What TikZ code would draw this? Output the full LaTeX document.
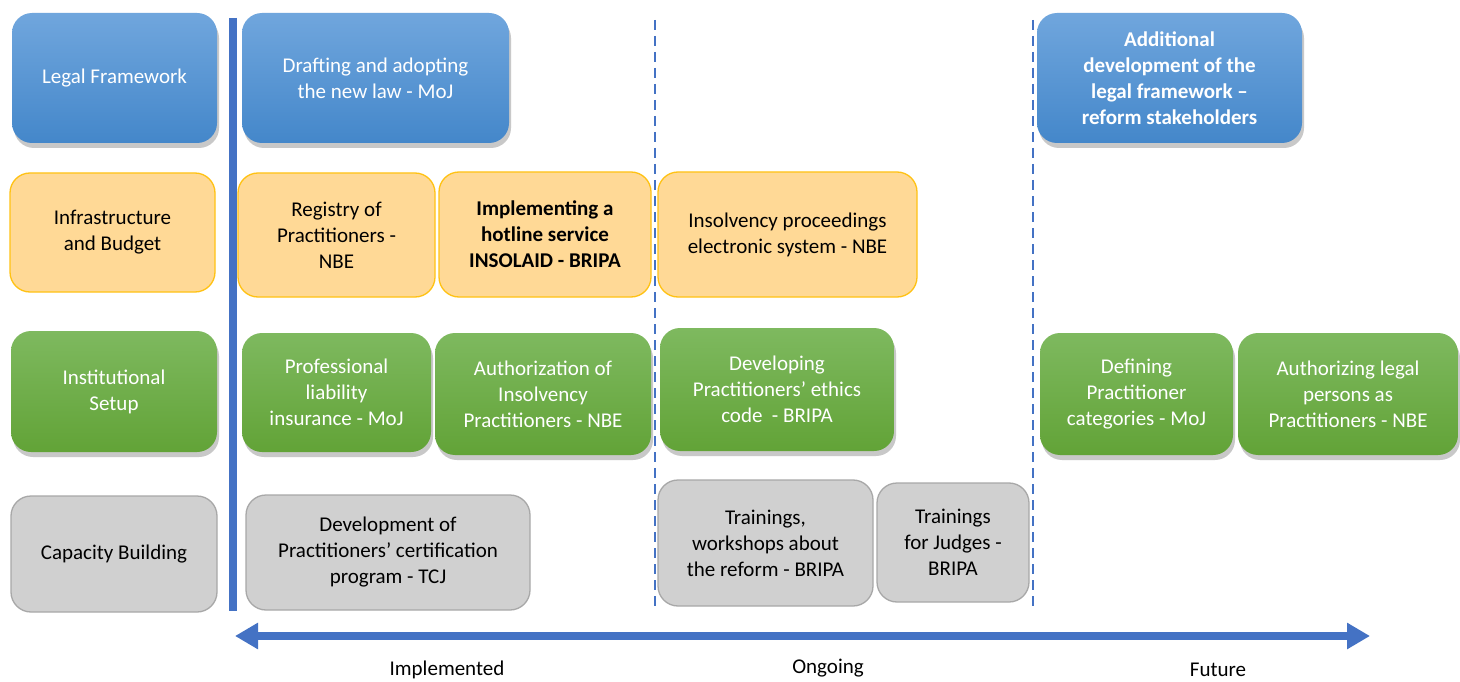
\documentclass[tikz,border=0pt]{standalone}
\usepackage{fontspec}
\setmainfont{Carlito}
\usetikzlibrary{arrows.meta,shadows}
\definecolor{blueT}{RGB}{112,166,221}
\definecolor{blueB}{RGB}{68,135,202}
\definecolor{greenT}{RGB}{126,185,95}
\definecolor{greenB}{RGB}{98,163,55}
\definecolor{orangeF}{RGB}{255,217,150}
\definecolor{orangeD}{RGB}{255,194,20}
\definecolor{greyF}{RGB}{208,208,208}
\definecolor{greyD}{RGB}{168,168,168}
\definecolor{lineblue}{RGB}{68,114,196}
\begin{document}
\begin{tikzpicture}[x=1pt,y=-1pt,
  box/.style={rounded corners=20pt, align=center, inner sep=0pt, font=\fontsize{21}{26}\selectfont},
  shad/.style={drop shadow={shadow xshift=2pt, shadow yshift=-5pt, opacity=0.3, fill=black!70}},
  bluebox/.style={box, shad, top color=blueT, bottom color=blueB, draw=none, text=white},
  greenbox/.style={box, shad, top color=greenT, bottom color=greenB, draw=none, text=white},
  orangebox/.style={box, fill=orangeF, draw=orangeD, line width=1.3pt, text=black},
  greybox/.style={box, fill=greyF, draw=greyD, line width=1.3pt, text=black},
  divider/.style={draw=lineblue, line width=2pt, dash pattern=on 10pt off 6pt},
  axis/.style={draw=lineblue, line width=8pt},
  lbl/.style={font=\fontsize{21}{26}\selectfont, text=black}
]
\useasboundingbox[fill=white] (0,0) rectangle (1460,682);

% dividers
\coordinate (s1) at (233,18);
\coordinate (s2) at (233,611);
\coordinate (d1a) at (655,20);
\coordinate (d1b) at (655,608);
\coordinate (d2a) at (1033,20);
\coordinate (d2b) at (1033,608);
\draw[axis] (s1) -- (s2);
\draw[divider] (d1a) -- (d1b);
\draw[divider] (d2a) -- (d2b);

% row 1
\node[bluebox, minimum width=205pt, minimum height=130pt] (lf) at (114.5,78) {Legal Framework};
\node[bluebox, minimum width=267pt, minimum height=130pt] (draft) at (375.5,78) {Drafting and adopting\\the new law - MoJ};
\node[bluebox, minimum width=265pt, minimum height=130pt, font=\fontsize{21}{26}\selectfont\bfseries] (addl) at (1169.5,78) {Additional\\development of the\\legal framework –\\reform stakeholders};

% row 2
\node[orangebox, minimum width=205pt, minimum height=119pt] (ib) at (112.5,232.5) {Infrastructure\\and Budget};
\node[orangebox, minimum width=197pt, minimum height=124pt] (reg) at (336.5,235) {Registry of\\Practitioners -\\NBE};
\node[orangebox, minimum width=212pt, minimum height=125pt, font=\fontsize{21}{26}\selectfont\bfseries] (impl) at (545,234.5) {Implementing a\\hotline service\\INSOLAID - BRIPA};
\node[orangebox, minimum width=259pt, minimum height=125pt] (ipe) at (787.5,234.5) {Insolvency proceedings\\electronic system - NBE};

% row 3
\node[greenbox, minimum width=206pt, minimum height=121pt] (is) at (114,391.5) {Institutional\\Setup};
\node[greenbox, minimum width=189pt, minimum height=119pt] (pli) at (336.5,392.5) {Professional\\liability\\insurance - MoJ};
\node[greenbox, minimum width=216pt, minimum height=122pt] (auth) at (543,394) {Authorization of\\Insolvency\\Practitioners - NBE};
\node[greenbox, minimum width=234pt, minimum height=123pt] (dev) at (777,389.5) {Developing\\Practitioners’ ethics\\code\ \ - BRIPA};
\node[greenbox, minimum width=193pt, minimum height=122pt] (def) at (1136.5,394) {Defining\\Practitioner\\categories - MoJ};
\node[greenbox, minimum width=220pt, minimum height=122pt] (alp) at (1348,394) {Authorizing legal\\persons as\\Practitioners - NBE};

% row 4
\node[greybox, minimum width=206pt, minimum height=116pt] (cb) at (114,554) {Capacity Building};
\node[greybox, minimum width=284pt, minimum height=115pt] (dcp) at (388,552.5) {Development of\\Practitioners’ certification\\program - TCJ};
\node[greybox, minimum width=215pt, minimum height=126pt] (tw) at (765.5,543) {Trainings,\\workshops about\\the reform - BRIPA};
\node[greybox, minimum width=152pt, minimum height=119pt] (tj) at (953,542.5) {Trainings\\for Judges -\\BRIPA};

% time axis
\coordinate (aL) at (235,636);
\coordinate (aR) at (1370,636);
\draw[axis, {Triangle[length=23pt,width=25pt]}-{Triangle[length=23pt,width=25pt]}] (aL) -- (aR);

\node[lbl] (impl-l) at (447,670) {Implemented};
\node[lbl] (ong-l) at (828,668) {Ongoing};
\node[lbl] (fut-l) at (1218,670) {Future};
\end{tikzpicture}
\end{document}
